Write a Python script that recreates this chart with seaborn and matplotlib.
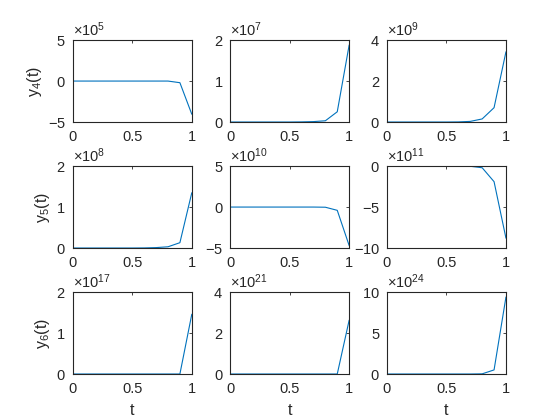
import numpy as np
import pandas as pd
import matplotlib
matplotlib.use("Agg")
import matplotlib.pyplot as plt
import seaborn as sns

# ==============================
# Data
# ==============================
t = [0.0, 0.1, 0.2, 0.3, 0.4, 0.5, 0.6, 0.7, 0.8, 0.9, 1.0]

y4_a = [0, 0, 0, 0, 0, 0, 0, 0, 0, -0.2e5, -4.05e5]
y4_b = [0, 0, 0, 0, 0, 0, 0.003e7, 0.01e7, 0.03e7, 0.25e7, 1.88e7]
y4_c = [0, 0, 0, 0, 0, 0, 0.005e9, 0.03e9, 0.15e9, 0.70e9, 3.43e9]

y5_a = [0, 0, 0, 0, 0, 0, 0.002e8, 0.01e8, 0.03e8, 0.13e8, 1.35e8]
y5_b = [0, 0, 0, 0, 0, 0, 0, 0, -0.02e10, -0.4e10, -4.7e10]
y5_c = [0, 0, 0, 0, 0, 0, 0, -0.02e11, -0.2e11, -1.9e11, -8.8e11]

y6_a = [0, 0, 0, 0, 0, 0, 0, 0, 0, 0, 1.46e17]
y6_b = [0, 0, 0, 0, 0, 0, 0, 0, 0, 0, 2.63e21]
y6_c = [0, 0, 0, 0, 0, 0, 0, 0, 0.02e24, 0.5e24, 9.4e24]

series = [y4_a, y4_b, y4_c, y5_a, y5_b, y5_c, y6_a, y6_b, y6_c]
ylims = [(-5e5, 5e5), (0, 2e7), (0, 4e9),
         (0, 2e8), (-5e10, 5e10), (-10e11, 0),
         (0, 2e17), (0, 4e21), (0, 10e24)]
exps = [5, 7, 9, 8, 10, 11, 17, 21, 24]
row_labels = ["y$_4$(t)", "y$_5$(t)", "y$_6$(t)"]

# ==============================
# Figure
# ==============================
sns.set_style("white")
plt.rcParams['font.family'] = ['Liberation Sans', 'DejaVu Sans']
plt.rcParams['mathtext.fontset'] = 'custom'
plt.rcParams['mathtext.rm'] = 'Liberation Sans'
plt.rcParams['mathtext.it'] = 'Liberation Sans'
plt.rcParams['axes.unicode_minus'] = False

fig = plt.figure(figsize=(5.6, 4.2), dpi=100)
dark = "#262626"
lefts = [0.130, 0.411, 0.691]
bottoms = [0.7095, 0.4095, 0.1095]
w, h = 0.2125, 0.195

for i, y in enumerate(series):
    r, c = divmod(i, 3)
    ax = fig.add_axes([lefts[c], bottoms[r], w, h])
    df = pd.DataFrame({"t": t, "y": y})
    sns.lineplot(data=df, x="t", y="y", ax=ax, color="#0072BD", linewidth=0.8)
    lo, hi = ylims[i]
    ax.set_xlim(0, 1)
    ax.set_ylim(lo, hi)
    ax.set_xticks([0, 0.5, 1])
    ax.set_xticklabels(["0", "0.5", "1"])
    ax.set_yticks([lo, (lo + hi) / 2, hi])
    ax.ticklabel_format(axis="y", style="sci", scilimits=(exps[i], exps[i]), useMathText=True)
    ax.yaxis.get_offset_text().set_fontsize(10.5)
    ax.yaxis.get_offset_text().set_color(dark)
    ax.tick_params(direction="in", length=2.5, width=0.6, colors=dark, labelsize=10.5,
                   top=True, right=True)
    ax.tick_params(axis="x", pad=6)
    ax.tick_params(axis="y", pad=5)
    for s in ax.spines.values():
        s.set_color(dark)
        s.set_linewidth(0.8)
    ax.set_xlabel("t" if r == 2 else "", fontsize=11.5, color=dark, labelpad=5)
    ax.set_ylabel(row_labels[r] if c == 0 else "", fontsize=11.5, color=dark, labelpad=3)

fig.savefig("out.png", dpi=100)
